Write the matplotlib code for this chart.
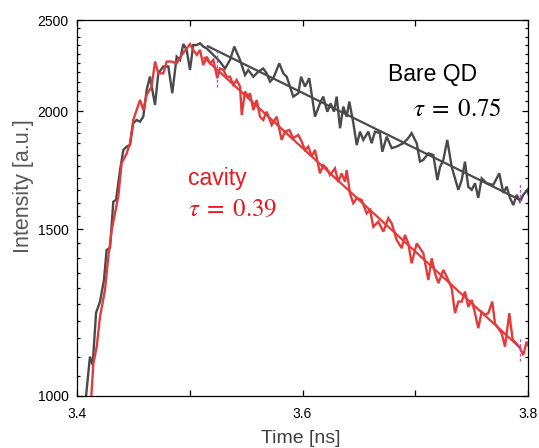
import matplotlib
matplotlib.use("Agg")
import matplotlib.pyplot as plt
from matplotlib.ticker import FixedLocator, NullFormatter

# ---- data ----
bare_t = [3.4075, 3.4115, 3.4139, 3.4169, 3.4204, 3.4239, 3.4263, 3.4293, 3.4322, 3.4346,
          3.4382, 3.4411, 3.4441, 3.4470, 3.4499, 3.4529, 3.4559, 3.4588, 3.4618, 3.4647,
          3.4692, 3.4721, 3.4765, 3.4810, 3.4845, 3.4884, 3.4914, 3.4943, 3.4973, 3.5002,
          3.5031, 3.5062, 3.5091, 3.5120, 3.5150, 3.5195, 3.5239, 3.5268, 3.5313, 3.5357,
          3.5395, 3.5446, 3.5490, 3.5519, 3.5564, 3.5608, 3.5652, 3.5682, 3.5712, 3.5741,
          3.5794, 3.5830, 3.5860, 3.5918, 3.5963, 3.5987, 3.6022, 3.6060, 3.6111, 3.6155,
          3.6184, 3.6220, 3.6250, 3.6279, 3.6303, 3.6333, 3.6362, 3.6392, 3.6415, 3.6451,
          3.6481, 3.6510, 3.6539, 3.6584, 3.6613, 3.6643, 3.6687, 3.6708, 3.6747, 3.6791,
          3.6835, 3.6894, 3.6938, 3.6968, 3.7013, 3.7042, 3.7071, 3.7116, 3.7160, 3.7196,
          3.7220, 3.7249, 3.7284, 3.7323, 3.7382, 3.7412, 3.7441, 3.7470, 3.7501, 3.7530,
          3.7559, 3.7589, 3.7634, 3.7692, 3.7745, 3.7781, 3.7811, 3.7840, 3.7870, 3.7900,
          3.7929, 3.7958, 3.7994, 3.8020]
bare_I = [985, 1100, 1078, 1224, 1258, 1326, 1427, 1434, 1605, 1612,
          1734, 1821, 1836, 1843, 1944, 1959, 1951, 1975, 2108, 2178,
          2032, 2195, 2232, 2232, 2091, 2286, 2268, 2358, 2324, 2213,
          2352, 2352, 2362, 2343, 2333, 2305, 2277, 2258, 2221, 2268,
          2343, 2268, 2186, 2213, 2177, 2204, 2221, 2195, 2151, 2169,
          2249, 2195, 2177, 2074, 2091, 2177, 2125, 2169, 1975, 2040,
          2074, 1999, 2040, 1999, 2074, 1920, 2024, 1975, 2049, 1944,
          1843, 1904, 1866, 1904, 1851, 1904, 1897, 1813, 1881, 1829,
          1836, 1851, 1874, 1897, 1851, 1770, 1777, 1806, 1799, 1692,
          1747, 1777, 1866, 1748, 1652, 1692, 1770, 1665, 1652, 1679,
          1620, 1699, 1679, 1672, 1720, 1640, 1665, 1620, 1592, 1632,
          1606, 1632, 1652, 1612]

cav_t = [3.4124, 3.4145, 3.4175, 3.4204, 3.4248, 3.4278, 3.4308, 3.4337, 3.4366, 3.4396,
         3.4441, 3.4470, 3.4499, 3.4514, 3.4559, 3.4588, 3.4618, 3.4662, 3.4692, 3.4721,
         3.4765, 3.4796, 3.4840, 3.4884, 3.4929, 3.4973, 3.5002, 3.5031, 3.5062, 3.5091,
         3.5120, 3.5150, 3.5180, 3.5209, 3.5244, 3.5268, 3.5298, 3.5328, 3.5357, 3.5386,
         3.5416, 3.5446, 3.5461, 3.5490, 3.5519, 3.5534, 3.5564, 3.5594, 3.5623, 3.5652,
         3.5682, 3.5727, 3.5771, 3.5815, 3.5844, 3.5883, 3.5918, 3.5963, 3.5993, 3.6022,
         3.6051, 3.6082, 3.6111, 3.6155, 3.6184, 3.6215, 3.6244, 3.6288, 3.6317, 3.6347,
         3.6377, 3.6392, 3.6421, 3.6450, 3.6481, 3.6525, 3.6569, 3.6599, 3.6628, 3.6672,
         3.6717, 3.6761, 3.6791, 3.6835, 3.6880, 3.6909, 3.6938, 3.6968, 3.7013, 3.7042,
         3.7071, 3.7116, 3.7146, 3.7175, 3.7205, 3.7249, 3.7279, 3.7323, 3.7353, 3.7382,
         3.7412, 3.7441, 3.7470, 3.7501, 3.7530, 3.7559, 3.7589, 3.7618, 3.7648, 3.7683,
         3.7707, 3.7736, 3.7767, 3.7796, 3.7834, 3.7864, 3.7894, 3.7929, 3.7958, 3.7988,
         3.8020]
cav_I = [985, 1082, 1127, 1212, 1294, 1404, 1498, 1561, 1625, 1763,
         1806, 1851, 1959, 1983, 2057, 2007, 2083, 2125, 2259, 2195,
         2195, 2259, 2259, 2249, 2296, 2333, 2357, 2324, 2296, 2324,
         2240, 2286, 2249, 2268, 2169, 2221, 2213, 2177, 2177, 2134,
         2160, 2125, 1983, 2100, 2074, 2091, 2007, 2057, 1975, 1959,
         1999, 1935, 1975, 1866, 1904, 1912, 1874, 1889, 1858, 1821,
         1836, 1792, 1821, 1720, 1755, 1741, 1713, 1741, 1685, 1720,
         1685, 1734, 1638, 1599, 1619, 1612, 1560, 1573, 1510, 1529,
         1492, 1542, 1523, 1462, 1433, 1480, 1450, 1381, 1450, 1433,
         1416, 1326, 1398, 1348, 1316, 1359, 1337, 1300, 1223, 1258,
         1258, 1289, 1242, 1263, 1223, 1179, 1227, 1218, 1223, 1258,
         1193, 1179, 1164, 1127, 1223, 1146, 1137, 1123, 1104, 1141,
         1118]

# exponential fits: end points (straight lines on the log axis)
bare_fit_t = [3.516, 3.793]
bare_fit_I = [2345, 1612]
cav_fit_t = [3.513, 3.793]
cav_fit_I = [2279, 1124]

# small magenta markers
mark_t = [3.524, 3.793, 3.793]
mark_lo = [2125, 1604, 1088]
mark_hi = [2319, 1677, 1155]

bare_label = "Bare QD"
bare_tau = r"$\tau\;=\;0.75$"
cav_label = "cavity"
cav_tau = r"$\tau\;=\;0.39$"

xticks_major = [3.4, 3.6, 3.8]
xticks_minor = [3.5, 3.7]
yticks_major = [1000, 1500, 2000, 2500]
yticks_minor = list(range(1050, 2500, 50))

GRAY = "#4a4a4a"
RED = "#e53a3a"

plt.rcParams["font.family"] = ["Liberation Sans", "DejaVu Sans"]
plt.rcParams["mathtext.fontset"] = "stix"

fig = plt.figure(figsize=(5.39, 4.48), dpi=100)
ax = fig.add_axes([77 / 539, 1 - 395.7 / 448, 451 / 539, 375.7 / 448])

ax.plot(bare_t, bare_I, color=GRAY, lw=1.7, solid_joinstyle="miter", zorder=2)
ax.plot(bare_fit_t, bare_fit_I, color=GRAY, lw=1.6, zorder=2)
ax.plot(cav_t, cav_I, color=RED, lw=1.7, solid_joinstyle="miter", zorder=3)
ax.plot(cav_fit_t, cav_fit_I, color=RED, lw=1.6, zorder=3)
ax.vlines(mark_t, mark_lo, mark_hi, colors="#c24ac8", linestyles=(0, (2, 1.5)), lw=1.0, zorder=4)

ax.set_yscale("log")
ax.set_xlim(3.4, 3.8)
ax.set_ylim(1000, 2500)

ax.xaxis.set_major_locator(FixedLocator(xticks_major))
ax.xaxis.set_minor_locator(FixedLocator(xticks_minor))
ax.set_xticklabels([f"{v:.1f}" for v in xticks_major])
ax.xaxis.set_minor_formatter(NullFormatter())
ax.yaxis.set_major_locator(FixedLocator(yticks_major))
ax.yaxis.set_minor_locator(FixedLocator(yticks_minor))
ax.set_yticklabels([str(v) for v in yticks_major])
ax.yaxis.set_minor_formatter(NullFormatter())

ax.tick_params(which="both", direction="in", top=True, right=True, width=0.9, colors="black")
ax.tick_params(axis="x", which="both", length=4, labelsize=10, pad=8)
ax.tick_params(axis="y", which="major", length=4.5, labelsize=10, pad=6)
ax.tick_params(axis="y", which="minor", length=2.5)
for s in ax.spines.values():
    s.set_linewidth(0.9)

fig.text(23 / 539, 1 - 186 / 448, "Intensity [a.u.]", rotation=90, ha="center", va="center",
         fontsize=15.5, color="#595959")
fig.text(301 / 539, 1 - 438 / 448, "Time [ns]", ha="center", va="center",
         fontsize=14, color="#404040")

ax.text(0.690, 0.854, bare_label, transform=ax.transAxes, ha="left", va="center",
        fontsize=16.5, color="black")
ax.text(0.942, 0.764, bare_tau, transform=ax.transAxes, ha="right", va="center",
        fontsize=18, color="black")
ax.text(0.246, 0.579, cav_label, transform=ax.transAxes, ha="left", va="center",
        fontsize=16.5, color="#e8181c")
ax.text(0.246, 0.498, cav_tau, transform=ax.transAxes, ha="left", va="center",
        fontsize=18, color="#e8181c")

fig.savefig("out.png", dpi=100)
